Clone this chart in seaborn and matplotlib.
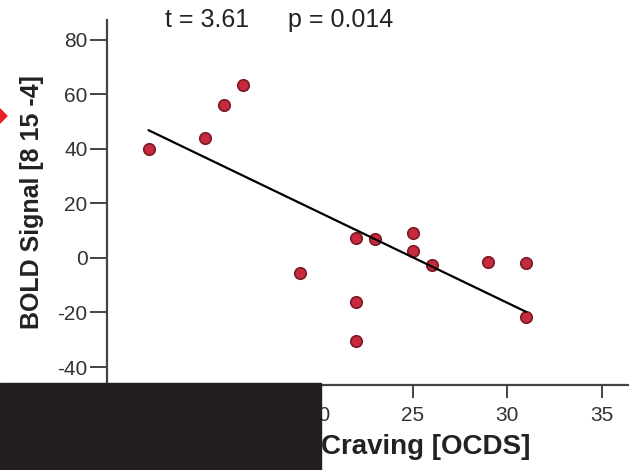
import matplotlib
matplotlib.use("Agg")
import matplotlib.pyplot as plt
from matplotlib.patches import Rectangle, Polygon
import numpy as np
import pandas as pd
import seaborn as sns

# Craving score (OCDS) and BOLD signal for each subject
craving = [11, 14, 15, 16, 19, 22, 23, 25, 25, 26, 29, 31, 22, 22, 31]
bold = [40, 44, 56, 63.5, -5.5, 7.5, 7, 9, 2.5, -2.5, -1.5, -2, -16, -30.5, -21.5]
x_ticks = [10, 15, 20, 25, 30, 35]
y_ticks = [-40, -20, 0, 20, 40, 60, 80]
t_text = "t = 3.61"
p_text = "p = 0.014"

df = pd.DataFrame({"craving": craving, "bold": bold})

sns.set_theme(style="ticks")
plt.rcParams["font.family"] = ["Liberation Sans", "DejaVu Sans"]
plt.rcParams["axes.unicode_minus"] = False

W, H = 632, 470
fig = plt.figure(figsize=(W / 100, H / 100), dpi=100)
ax = fig.add_axes([107 / W, 1 - 385 / H, (628 - 107) / W, (385 - 20) / H])

sns.regplot(
    data=df, x="craving", y="bold", ax=ax, ci=None, truncate=True,
    scatter_kws=dict(s=68, color="#c62a3c", edgecolors="#7a1a26",
                     linewidths=1.2, alpha=1, zorder=3),
    line_kws=dict(color="black", lw=1.6, zorder=4),
)

ax.set_xlim(8.8, 36.4)
ax.set_ylim(-46.6, 87.3)
ax.set_xticks(x_ticks)
ax.set_yticks(y_ticks)

spine_col = "#444444"
for side in ("top", "right"):
    ax.spines[side].set_visible(False)
for side in ("left", "bottom"):
    ax.spines[side].set_color(spine_col)
    ax.spines[side].set_linewidth(1.6)

ax.tick_params(axis="y", length=12, width=1.4, color=spine_col, pad=2,
               labelsize=15, labelcolor="#333333")
ax.tick_params(axis="x", length=9, width=1.4, color=spine_col, pad=6,
               labelsize=15, labelcolor="#333333")

ax.set_ylabel("BOLD Signal [8 15 -4]", fontsize=18, fontweight="bold",
              color="#222222")
ax.yaxis.set_label_coords((44 - 107) / 521, 0.5)

ax.set_xlabel("Craving [OCDS]", fontsize=20, fontweight="bold",
              color="#222222", ha="right")
ax.xaxis.set_label_coords((530 - 107) / 521, -(434 - 385) / 365)

fig.text(165 / W, 1 - 20 / H, t_text, fontsize=18, color="#222222",
         ha="left", va="center")
fig.text(288 / W, 1 - 20 / H, p_text, fontsize=18, color="#222222",
         ha="left", va="center")

# red arrow marker at the left margin
fig.add_artist(Polygon([(0, 1 - 109 / H), (7 / W, 1 - 116 / H), (0, 1 - 123 / H)],
                       closed=True, transform=fig.transFigure,
                       color="#e8202a", zorder=10))

# dark panel over the lower-left corner
fig.add_artist(Rectangle((0, 0), 321 / W, (H - 383) / H,
                         transform=fig.transFigure, color="#231f20",
                         zorder=10))

fig.savefig("out.png", dpi=100)
